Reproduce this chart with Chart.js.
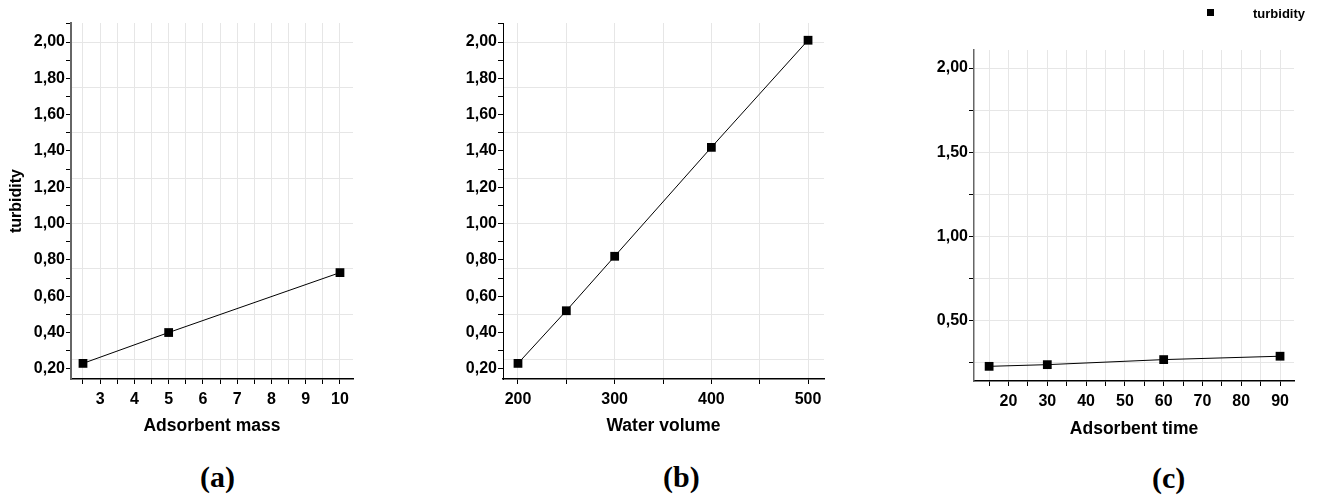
<!DOCTYPE html>
<html>
<head>
<meta charset="utf-8">
<script src="https://cdn.jsdelivr.net/npm/chart.js@4"></script>
<style>
    body { margin: 0; background: #fff; width: 1322px; height: 501px; position: relative; overflow: hidden; }
    .caja { position: absolute; }
    .letra { position: absolute; font-family: 'Liberation Serif', 'Times New Roman', serif; font-weight: bold; font-size: 30px; line-height: 30px; color: #000; }
    #leyenda { position: absolute; left: 1207px; top: 6px; font: bold 13px 'Liberation Sans', Arial, sans-serif; color: #000; }
    #leyenda .cuadro { position: absolute; left: 0; top: 3px; width: 7px; height: 7px; background: #000; }
    #leyenda span { position: absolute; left: 46px; top: 0; line-height: 16px; white-space: nowrap; }
</style>
</head>
<body>
<div class="caja" style="left:0;top:0;width:360px;height:445px"><canvas id="masaChart"></canvas></div>
<div class="caja" style="left:440px;top:0;width:395px;height:445px"><canvas id="volumenChart"></canvas></div>
<div class="caja" style="left:880px;top:0;width:442px;height:450px"><canvas id="tiempoChart"></canvas></div>

<div id="leyenda"><div class="cuadro"></div><span>turbidity</span></div>
<div class="letra" style="left:200px;top:462px">(a)</div>
<div class="letra" style="left:663px;top:462px">(b)</div>
<div class="letra" style="left:1152px;top:463px">(c)</div>

<script>
// datos
const masaX = [2.5, 5, 10];
const masaTurbidez = [0.23, 0.40, 0.73];

const volumenX = [200, 250, 300, 400, 500];
const volumenTurbidez = [0.23, 0.52, 0.82, 1.42, 2.01];

const tiempoX = [15, 30, 60, 90];
const tiempoTurbidez = [0.23, 0.24, 0.27, 0.29];

// etiquetas de los ejes
const masaTicks = [3, 4, 5, 6, 7, 8, 9, 10];
const volumenTicks = [200, 300, 400, 500];
const tiempoTicks = [20, 30, 40, 50, 60, 70, 80, 90];
const turbidezTicksAB = [0.2, 0.4, 0.6, 0.8, 1.0, 1.2, 1.4, 1.6, 1.8, 2.0];
const turbidezTicksC = [0.5, 1.0, 1.5, 2.0];

Chart.defaults.font.family = "'Liberation Sans', Arial, sans-serif";
Chart.defaults.font.weight = 'bold';
Chart.defaults.color = '#000';

const GRIS = '#e6e6e6';

function enLista(lista, v) {
    return lista.some(t => Math.abs(t - v) < 1e-6);
}

function puntos(xs, ys) {
    return xs.map((x, i) => ({ x: x, y: ys[i] }));
}

function serie(xs, ys) {
    return {
        label: 'turbidity',
        data: puntos(xs, ys),
        borderColor: '#000',
        borderWidth: 1,
        backgroundColor: '#000',
        pointStyle: 'rect',
        pointRadius: 6.2,
        pointHoverRadius: 6.2,
        pointBorderWidth: 0,
        tension: 0,
        clip: false
    };
}

function ejeX(min, max, paso, etiquetas, titulo, alto, padTitulo) {
    return {
        type: 'linear',
        min: min,
        max: max,
        afterFit: s => { s.height = alto; },
        grid: { color: GRIS, tickColor: '#000', tickLength: 5, lineWidth: 1 },
        border: { color: '#000', width: 1.5 },
        ticks: {
            stepSize: paso,
            includeBounds: false,
            autoSkip: false,
            maxRotation: 0,
            maxTicksLimit: 100,
            padding: 6,
            font: { size: 16 },
            callback: v => enLista(etiquetas, v) ? String(v) : ''
        },
        title: { display: true, text: titulo, font: { size: 17.5 }, padding: { top: 2, bottom: padTitulo } }
    };
}

function ejeY(min, max, paso, etiquetas, ancho, conTitulo, bordeColor, bordeAncho, conRejilla) {
    return {
        type: 'linear',
        min: min,
        max: max,
        afterFit: s => { s.width = ancho; },
        grid: conRejilla
            ? { color: GRIS, tickColor: '#000', tickLength: 5 }
            : { drawOnChartArea: false, tickColor: '#000', tickLength: 5 },
        border: { color: bordeColor, width: bordeAncho },
        ticks: {
            stepSize: paso,
            includeBounds: false,
            autoSkip: false,
            maxTicksLimit: 100,
            padding: 1,
            font: { size: 16 },
            callback: v => enLista(etiquetas, v) ? v.toFixed(2).replace('.', ',') : ''
        },
        title: { display: conTitulo, text: 'turbidity', font: { size: 16 }, padding: { top: 7, bottom: 0 } }
    };
}

// rejilla horizontal cada 0,25 (distinta de las marcas cada 0,1)
function ejeRejilla(min, max) {
    return {
        type: 'linear',
        position: 'right',
        min: min,
        max: max,
        afterFit: s => { s.width = 0; },
        grid: { color: GRIS, drawTicks: false },
        border: { display: false },
        ticks: { display: false, stepSize: 0.25, includeBounds: false, maxTicksLimit: 100 }
    };
}

function opciones(padding, escalas) {
    return {
        responsive: true,
        maintainAspectRatio: false,
        animation: false,
        events: [],
        layout: { padding: padding },
        plugins: { legend: { display: false }, tooltip: { enabled: false } },
        scales: escalas
    };
}

const masaChart = new Chart(document.getElementById('masaChart'), {
    type: 'line',
    data: { datasets: [serie(masaX, masaTurbidez)] },
    options: opciones({ top: 23, right: 7, left: 0, bottom: 0 }, {
        x: ejeX(2.15, 10.38, 0.5, masaTicks, 'Adsorbent mass', 66, 8),
        y: ejeY(0.144, 2.105, 0.1, turbidezTicksAB, 71, true, '#666', 2, false),
        yg: ejeRejilla(0.144, 2.105)
    })
});

const volumenChart = new Chart(document.getElementById('volumenChart'), {
    type: 'line',
    data: { datasets: [serie(volumenX, volumenTurbidez)] },
    options: opciones({ top: 23, right: 11, left: 0, bottom: 0 }, {
        x: ejeX(184.5, 516.5, 50, volumenTicks, 'Water volume', 66, 8),
        y: ejeY(0.144, 2.105, 0.1, turbidezTicksAB, 63, false, '#000', 1, false),
        yg: ejeRejilla(0.144, 2.105)
    })
});

const tiempoChart = new Chart(document.getElementById('tiempoChart'), {
    type: 'line',
    data: { datasets: [serie(tiempoX, tiempoTurbidez)] },
    options: opciones({ top: 50, right: 28, left: 0, bottom: 0 }, {
        x: ejeX(11.1, 93.6, 5, tiempoTicks, 'Adsorbent time', 69, 10),
        y: ejeY(0.143, 2.107, 0.25, turbidezTicksC, 94, false, '#666', 1.5, true)
    })
});
</script>
</body>
</html>
